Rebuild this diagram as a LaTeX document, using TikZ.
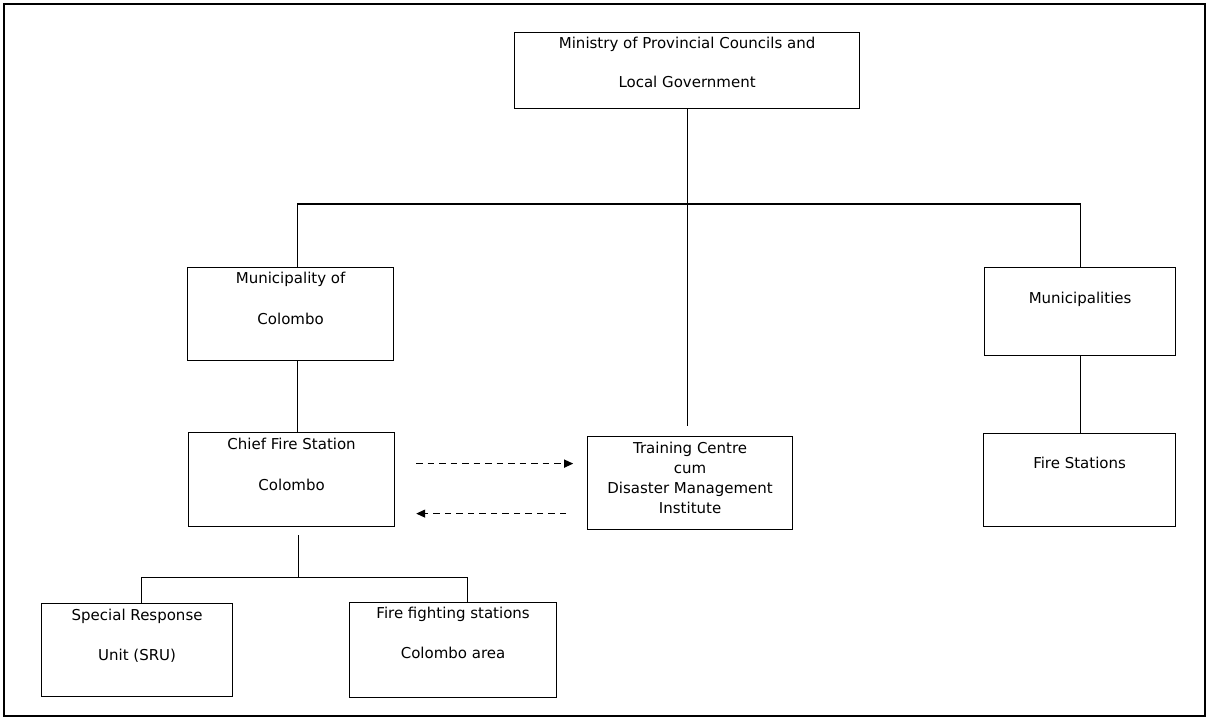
\documentclass[tikz,border=0pt]{standalone}
\usepackage{fontspec}
\setmainfont{DejaVu Sans}
\usetikzlibrary{arrows.meta}

% text block of a unit: width, height, top padding, lines
\newcommand{\unittext}[4]{\parbox[c][#2][t]{#1}{\centering\rule{0pt}{#3}#4\par}}

\tikzset{
    unit/.style={draw, line width=1.2pt, inner sep=0pt, anchor=north west,
        font=\fontsize{15}{20}\selectfont},
    link/.style={line width=1.2pt},
    flow/.style={line width=1.2pt, dash pattern=on 6.5pt off 5pt,
        -{Triangle[length=9pt,width=8pt]}}
}

\begin{document}
\begin{tikzpicture}[x=1pt, y=-1pt]
        \useasboundingbox (0,0) rectangle (1208,720);
        \draw[line width=2.6pt] (4,4) rectangle (1205,716);

        % Units
        \node[unit] (ministry) at (514,32)
            {\unittext{345pt}{76pt}{16pt}{Ministry of Provincial Councils and\\[19pt] Local Government}};
        \node[unit] (mcolombo) at (187,267)
            {\unittext{206pt}{93pt}{16pt}{Municipality of\\[21pt] Colombo}};
        \node[unit] (munis) at (984,267)
            {\unittext{191pt}{88pt}{36pt}{Municipalities}};
        \node[unit] (chief) at (188,432)
            {\unittext{206pt}{94pt}{17pt}{Chief Fire Station\\[21pt] Colombo}};
        \node[unit] (training) at (587,436)
            {\unittext{205pt}{93pt}{17pt}{Training Centre\\ cum\\ Disaster Management\\ Institute}};
        \node[unit] (stations) at (983,433)
            {\unittext{192pt}{93pt}{35pt}{Fire Stations}};
        \node[unit] (sru) at (41,603)
            {\unittext{191pt}{93pt}{17pt}{Special Response\\[20pt] Unit (SRU)}};
        \node[unit] (fighting) at (349,602)
            {\unittext{207pt}{95pt}{16pt}{Fire fighting stations\\[20pt] Colombo area}};

        % Lines
        \coordinate (tc) at (687,426);
        \draw[link] (ministry.south) -- (ministry.south |- tc);
        \draw[link] ([xshift=7pt]mcolombo.north) -- ++(0,-63) -| (munis.north);
        \draw[link] ([xshift=7pt]mcolombo.south) -- ([xshift=7pt]mcolombo.south |- chief.north);
        \draw[link] (munis.south) -- (munis.south |- stations.north);
        \draw[link] ([shift={(7,8)}]chief.south) -- ++(0,42) coordinate (split);
        \draw[link] ([xshift=4pt]sru.north) |- (split) -| ([xshift=14pt]fighting.north);

        % Exchange
        \draw[flow] ([shift={(21,-16)}]chief.east) -- ++(157,0);
        \draw[flow] ([shift={(171,34)}]chief.east) -- ++(-150,0);
    \end{tikzpicture}
\end{document}
